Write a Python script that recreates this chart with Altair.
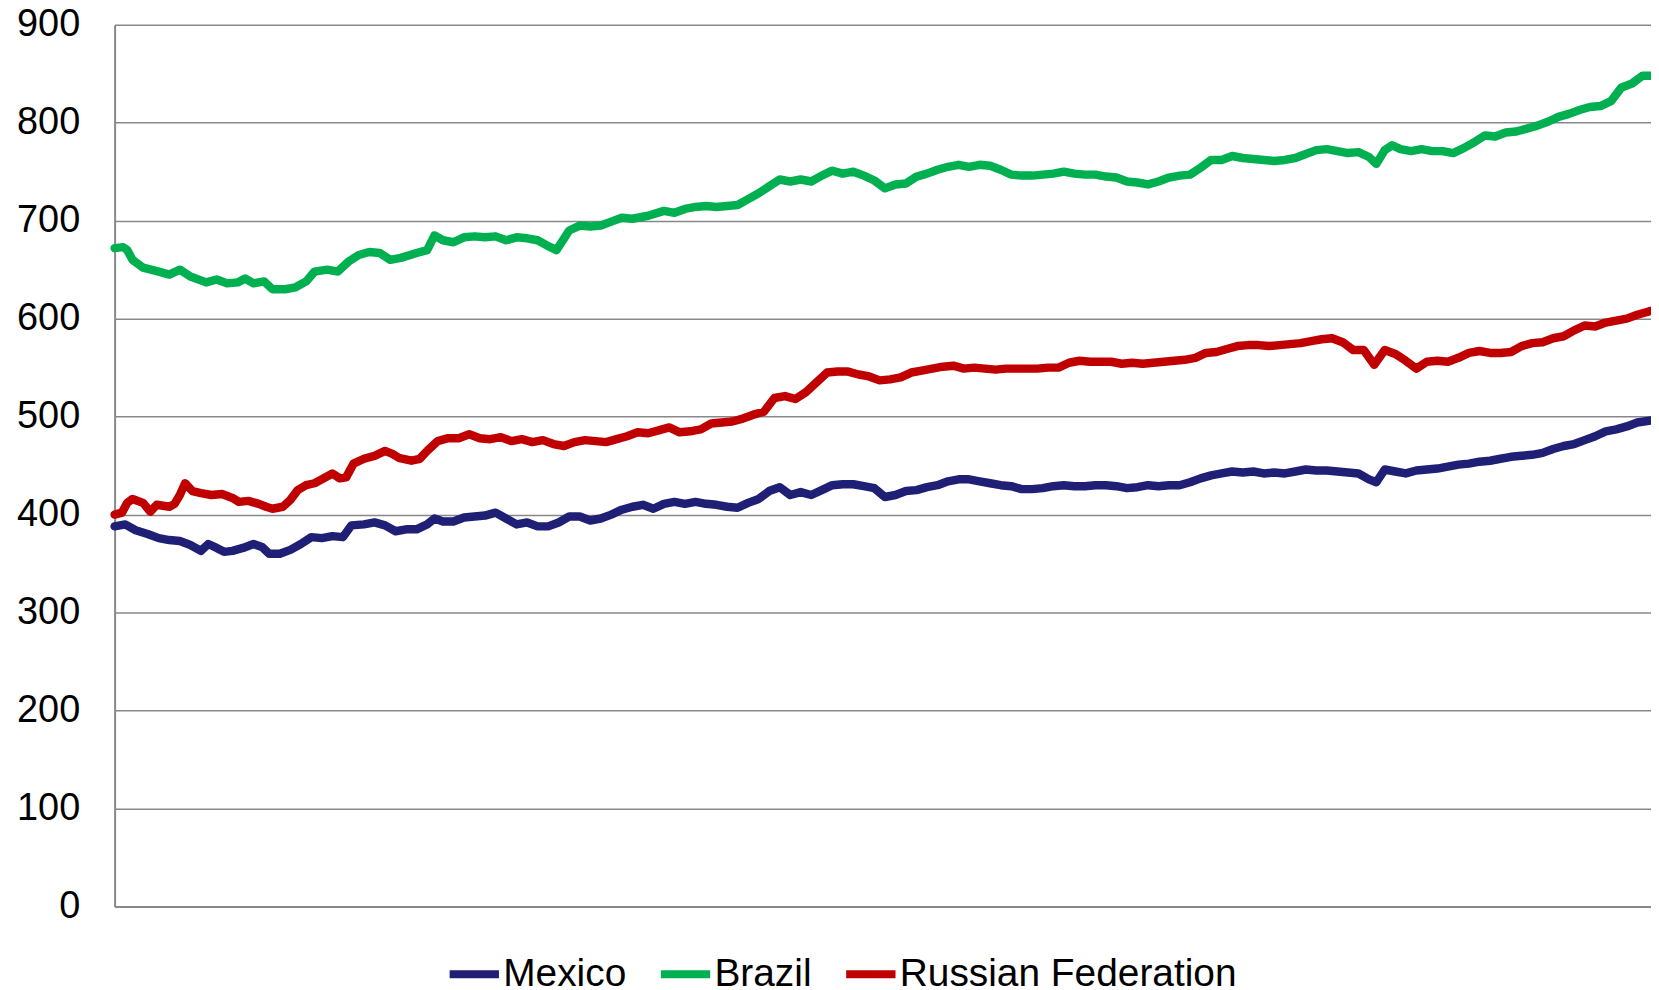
import altair as alt
import pandas as pd

series_names = ["Mexico", "Brazil", "Russian Federation"]
series_colors = ["#1F1F75", "#00B050", "#C00000"]

mex_t = [0, 10, 20, 32, 42, 52, 62, 72, 82, 89, 97, 104, 112, 122, 132, 140, 147, 157, 167, 177, 187, 197, 207, 217, 225, 237, 247, 257, 267, 277, 287, 297, 304, 312, 322, 332, 342, 352, 362, 372, 382, 392, 402, 412, 422, 432, 442, 452, 462, 472, 482, 492, 502, 512, 522, 532, 542, 552, 562, 572, 582, 592, 602, 612, 622, 632, 642, 652, 662, 672, 682, 692, 702, 712, 722, 732, 742, 752, 762, 772, 782, 792, 802, 812, 822, 832, 842, 852, 862, 872, 882, 892, 902, 912, 922, 932, 942, 952, 962, 972, 982, 992, 1002, 1012, 1022, 1032, 1042, 1052, 1062, 1072, 1082, 1092, 1102, 1112, 1122, 1132, 1142, 1152, 1162, 1172, 1182, 1192, 1199, 1207, 1217, 1227, 1237, 1247, 1257, 1267, 1277, 1287, 1297, 1307, 1317, 1327, 1337, 1347, 1357, 1367, 1377, 1387, 1397, 1407, 1417, 1427, 1437, 1447, 1460]
mex_v = [388, 390, 384, 380, 376, 374, 373, 369, 363, 370, 366, 362, 363, 366, 370, 367, 360, 360, 364, 370, 377, 376, 378, 377, 389, 390, 392, 389, 383, 385, 385, 390, 396, 393, 393, 397, 398, 399, 402, 396, 390, 392, 388, 388, 392, 398, 398, 394, 396, 400, 405, 408, 410, 406, 411, 413, 411, 413, 411, 410, 408, 407, 412, 416, 424, 428, 420, 423, 420, 425, 430, 431, 431, 429, 427, 418, 420, 424, 425, 428, 430, 434, 436, 436, 434, 432, 430, 429, 426, 426, 427, 429, 430, 429, 429, 430, 430, 429, 427, 428, 430, 429, 430, 430, 433, 437, 440, 442, 444, 443, 444, 442, 443, 442, 444, 446, 445, 445, 444, 443, 442, 436, 433, 446, 444, 442, 445, 446, 447, 449, 451, 452, 454, 455, 457, 459, 460, 461, 463, 467, 470, 472, 476, 480, 485, 487, 490, 494, 496]

bra_t = [0, 8, 12, 17, 27, 42, 52, 62, 72, 87, 97, 107, 117, 124, 132, 142, 150, 162, 172, 182, 190, 202, 212, 222, 232, 242, 252, 262, 272, 287, 297, 304, 312, 322, 332, 342, 352, 362, 372, 382, 392, 402, 412, 420, 432, 442, 452, 462, 472, 482, 492, 507, 522, 532, 542, 552, 562, 572, 592, 602, 612, 622, 632, 642, 652, 662, 672, 682, 692, 702, 712, 722, 732, 742, 752, 762, 772, 782, 792, 802, 812, 822, 832, 842, 852, 862, 872, 882, 892, 902, 912, 922, 932, 942, 952, 962, 972, 982, 992, 1002, 1012, 1022, 1032, 1042, 1052, 1062, 1072, 1082, 1092, 1102, 1112, 1122, 1132, 1142, 1152, 1162, 1172, 1182, 1192, 1199, 1207, 1214, 1222, 1232, 1242, 1252, 1262, 1272, 1282, 1292, 1302, 1312, 1322, 1332, 1342, 1352, 1362, 1372, 1382, 1392, 1402, 1412, 1422, 1432, 1442, 1452, 1460]
bra_v = [672, 673, 670, 660, 652, 648, 645, 650, 643, 637, 640, 636, 637, 641, 636, 638, 630, 630, 632, 638, 648, 650, 648, 658, 665, 668, 667, 660, 662, 667, 670, 685, 680, 678, 683, 684, 683, 684, 680, 683, 682, 680, 674, 670, 690, 695, 694, 695, 699, 703, 702, 705, 710, 708, 712, 714, 715, 714, 716, 722, 728, 735, 742, 740, 742, 740, 746, 751, 748, 750, 746, 741, 733, 737, 738, 745, 748, 752, 755, 757, 755, 757, 756, 752, 747, 746, 746, 747, 748, 750, 748, 747, 747, 745, 744, 740, 739, 737, 740, 744, 746, 747, 754, 762, 762, 766, 764, 763, 762, 761, 762, 764, 768, 772, 773, 771, 769, 770, 765, 758, 772, 777, 773, 771, 773, 771, 771, 769, 774, 780, 787, 786, 790, 791, 794, 797, 801, 806, 809, 813, 816, 817, 822, 836, 840, 848, 848]

rus_t = [0, 7, 12, 17, 27, 34, 40, 52, 57, 62, 67, 74, 82, 92, 102, 112, 118, 127, 137, 144, 150, 160, 167, 174, 182, 190, 197, 207, 214, 220, 227, 237, 247, 257, 264, 270, 282, 290, 297, 307, 317, 327, 337, 347, 357, 367, 377, 387, 397, 407, 417, 427, 437, 447, 457, 467, 477, 487, 497, 507, 517, 527, 537, 547, 557, 567, 577, 587, 597, 607, 617, 627, 637, 647, 657, 667, 677, 687, 697, 707, 717, 727, 737, 747, 757, 767, 777, 787, 797, 807, 817, 827, 837, 847, 857, 867, 877, 887, 897, 907, 917, 927, 937, 947, 957, 967, 977, 987, 997, 1007, 1017, 1027, 1037, 1047, 1057, 1067, 1077, 1087, 1097, 1107, 1117, 1127, 1137, 1147, 1157, 1167, 1177, 1187, 1197, 1207, 1217, 1227, 1237, 1247, 1257, 1267, 1277, 1287, 1297, 1307, 1317, 1327, 1337, 1347, 1357, 1367, 1377, 1387, 1397, 1407, 1417, 1427, 1437, 1447, 1460]
rus_v = [400, 402, 412, 416, 412, 403, 410, 408, 411, 420, 432, 424, 422, 420, 421, 417, 413, 414, 411, 408, 406, 408, 415, 425, 430, 432, 436, 442, 437, 438, 452, 457, 460, 465, 462, 458, 455, 457, 465, 475, 478, 478, 482, 478, 477, 479, 475, 477, 474, 476, 472, 470, 474, 476, 475, 474, 477, 480, 484, 483, 486, 489, 484, 485, 487, 493, 494, 495, 498, 502, 505, 519, 521, 518, 525, 535, 545, 546, 546, 543, 541, 537, 538, 540, 545, 547, 549, 551, 552, 549, 550, 549, 548, 549, 549, 549, 549, 550, 550, 555, 557, 556, 556, 556, 554, 555, 554, 555, 556, 557, 558, 560, 565, 566, 569, 572, 573, 573, 572, 573, 574, 575, 577, 579, 580, 576, 568, 568, 553, 568, 564, 557, 549, 556, 557, 556, 560, 565, 567, 565, 565, 566, 572, 575, 576, 580, 582, 588, 593, 592, 596, 598, 600, 604, 608]

rows = []
for name, ts, vs in zip(series_names, [mex_t, bra_t, rus_t], [mex_v, bra_v, rus_v]):
    for t, v in zip(ts, vs):
        rows.append({"day": t, "value": v, "series": name})
df = pd.DataFrame(rows)

FONT = "Liberation Sans"
GRID = "#888888"

chart = alt.Chart(df).mark_line(
    strokeWidth=8.5, strokeJoin="round", strokeCap="round"
).encode(
    x=alt.X("day:Q",
            scale=alt.Scale(domain=[0, 1460], nice=False, zero=False),
            axis=alt.Axis(labels=False, ticks=False, grid=False, title=None,
                          domainColor=GRID, domainWidth=2)),
    y=alt.Y("value:Q",
            scale=alt.Scale(domain=[0, 900], nice=False),
            axis=alt.Axis(values=list(range(0, 901, 100)), title=None, ticks=False,
                          labelPadding=35, labelFontSize=38, labelFont=FONT,
                          labelColor="black", gridColor=GRID, gridWidth=1.5,
                          domainColor=GRID, domainWidth=2)),
    color=alt.Color("series:N",
                    scale=alt.Scale(domain=series_names, range=series_colors),
                    legend=alt.Legend(title=None, orient="none", legendX=332, legendY=924,
                                      direction="horizontal", symbolType="stroke",
                                      symbolStrokeWidth=8, symbolSize=2450,
                                      labelFontSize=39, labelFont=FONT, labelColor="black",
                                      labelLimit=0, columnPadding=18, labelOffset=0)),
).properties(
    width=1542, height=885,
    autosize=alt.AutoSizeParams(type="none"),
    padding={"left": 107, "top": 15, "right": 0, "bottom": 78},
).configure_view(stroke=None)

chart.save("out.html", embed_options={"renderer": "svg", "actions": False})
